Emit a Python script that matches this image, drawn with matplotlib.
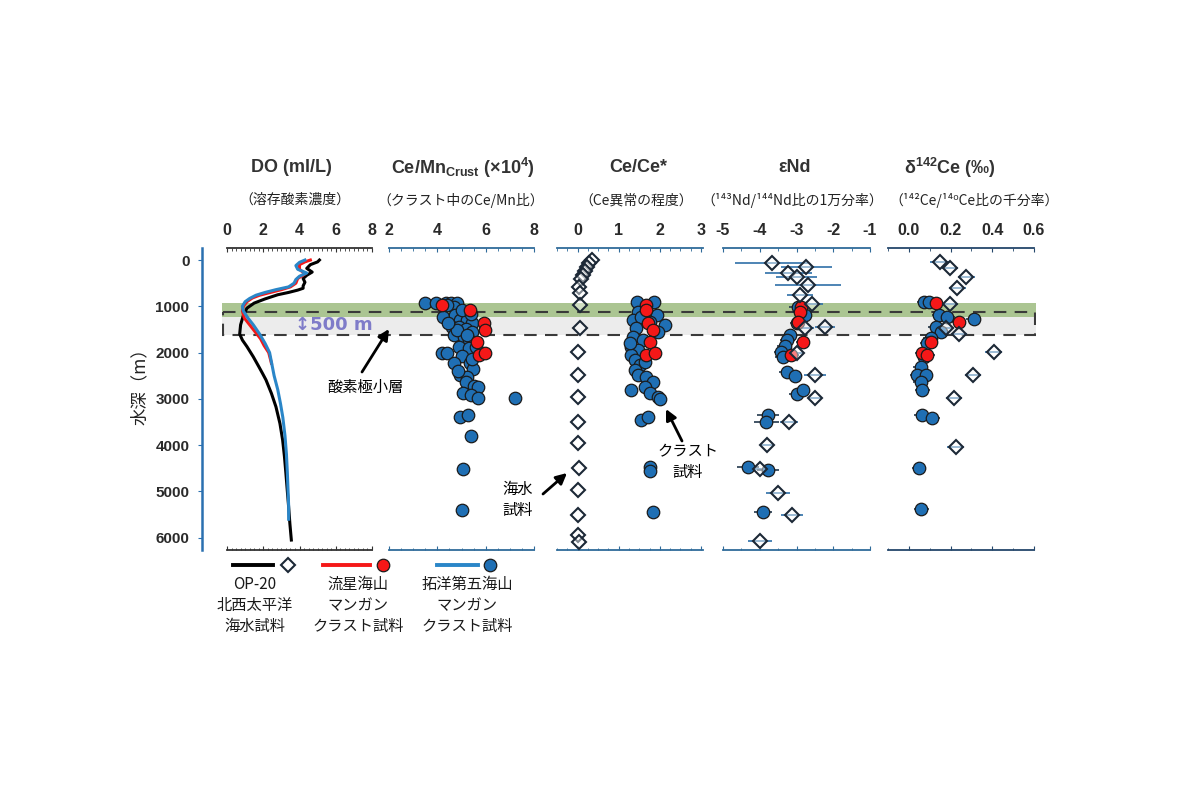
import numpy as np
import matplotlib.pyplot as plt
from matplotlib.patches import Rectangle
from matplotlib.ticker import MultipleLocator

plt.rcParams['mathtext.default'] = 'regular'
plt.rcParams['axes.unicode_minus'] = False

JP = ['Noto Sans CJK JP', 'DejaVu Sans']
EN = ['Liberation Sans', 'DejaVu Sans']

# ---------------- data ----------------
# dissolved oxygen profiles (ml/L) vs depth (m)
do_op20_depth = [0, 40, 100, 180, 260, 330, 400, 480, 560, 610, 650, 700, 750, 840, 930, 1040,
                 1200, 1400, 1600, 1730, 1870, 2090, 2300, 2450, 2590, 2880, 3170, 3530, 3890,
                 4250, 4610, 5000, 5330, 5700, 6050]
do_op20 = [5.1, 5.0, 4.6, 4.4, 4.7, 4.4, 4.2, 4.3, 4.2, 4.2, 3.9, 3.4, 2.8, 2.1, 1.5, 1.1,
           0.9, 0.75, 0.7, 0.85, 1.1, 1.45, 1.75, 1.96, 2.15, 2.45, 2.7, 2.92, 3.07,
           3.17, 3.25, 3.33, 3.4, 3.47, 3.55]
do_ryusei_depth = [0, 40, 100, 200, 300, 400, 500, 580, 640, 700, 760, 820, 900, 1000, 1100,
                   1250, 1400, 1550, 1700, 1850, 2000, 2150, 2230]
do_ryusei = [4.6, 4.3, 4.0, 4.0, 4.3, 3.9, 3.8, 3.5, 3.0, 2.4, 1.8, 1.4, 1.1, 0.9, 0.85,
             0.95, 1.25, 1.55, 1.85, 2.05, 2.3, 2.4, 2.45]
do_takuyo_depth = [0, 50, 120, 200, 280, 350, 420, 500, 580, 640, 700, 760, 830, 900, 1000,
                   1100, 1250, 1400, 1600, 1800, 2000, 2200, 2500, 2800, 3100, 3400, 3800,
                   4200, 4600, 5000, 5300, 5600]
do_takuyo = [4.3, 4.0, 3.8, 3.9, 4.4, 4.0, 3.8, 3.7, 3.4, 2.7, 2.1, 1.6, 1.25, 1.0, 0.85,
             0.9, 1.15, 1.45, 1.8, 2.1, 2.35, 2.45, 2.6, 2.8, 2.95, 3.08, 3.2,
             3.28, 3.33, 3.37, 3.4, 3.4]

# Ce/Mn in crusts (x10^4)
cemn_takuyo_depth = [936, 922, 922, 922, 936, 1008, 1238, 1188, 1296, 1296, 1353, 1454, 1454,
                     1497, 1548, 1620, 1656, 1728, 1886, 1908, 2001, 2001, 2073, 2217, 2231,
                     2361, 2484, 2520, 2628, 2721, 2736, 2880, 2916, 2988, 2988, 3398, 3348,
                     3801, 4514, 5400, 972, 1080, 1166, 1512, 1368, 1620, 1872, 2145, 2390]
cemn_takuyo = [3.48, 3.94, 4.36, 4.56, 4.81, 4.67, 4.22, 4.74, 4.95, 5.21, 5.45, 4.60, 4.88,
               5.17, 5.45, 4.70, 5.10, 5.31, 4.88, 5.31, 4.18, 4.39, 5.03, 4.67, 5.35,
               5.49, 4.95, 5.24, 5.17, 5.52, 5.69, 5.07, 5.38, 5.69, 7.23, 4.95, 5.26,
               5.38, 5.07, 5.00, 4.39, 5.03, 5.38, 4.81, 4.46, 5.24, 5.59, 5.45, 4.84]
cemn_ryusei_depth = [972, 1080, 1353, 1512, 1764, 2052, 2016]
cemn_ryusei = [4.18, 5.35, 5.92, 5.97, 5.63, 5.73, 5.97]

# Ce/Ce*
cece_sw_depth = [0, 58, 144, 230, 324, 418, 576, 720, 972, 1476, 1980, 2484, 2952, 3492,
                 3960, 4500, 4968, 5508, 5940, 6084]
cece_sw = [0.36, 0.29, 0.24, 0.18, 0.13, 0.09, 0.03, 0.06, 0.05, 0.05, 0.02, 0.02, 0.02, 0.02,
           0.02, 0.03, 0.02, 0.02, 0.02, 0.03]
cece_takuyo_depth = [900, 900, 1116, 1296, 1238, 1188, 1404, 1476, 1548, 1656, 1728, 1872,
                     1944, 2052, 2160, 2268, 2376, 2484, 2520, 2628, 2808, 2736, 2880, 2952,
                     3009, 3456, 3384, 4478, 4550, 5436, 1332, 1800, 2196]
cece_takuyo = [1.45, 1.85, 1.47, 1.35, 1.55, 1.92, 2.12, 1.43, 1.96, 1.35, 1.59, 1.31,
               1.47, 1.31, 1.39, 1.51, 1.39, 1.47, 1.67, 1.84, 1.31, 1.63, 1.76, 1.96,
               2.00, 1.55, 1.72, 1.76, 1.77, 1.84, 1.76, 1.27, 1.63]
cece_ryusei_depth = [972, 1080, 1368, 1512, 1764, 2052, 2016]
cece_ryusei = [1.67, 1.67, 1.72, 1.84, 1.76, 1.67, 1.88]

# epsilon Nd
end_sw_depth = [58, 158, 274, 374, 540, 756, 950, 1476, 1454, 2016, 2484, 2987, 3492, 3996,
                4521, 5025, 5508, 6070]
end_sw = [-3.68, -2.73, -3.23, -3.00, -2.68, -2.91, -2.59, -2.77, -2.23, -3.00, -2.50, -2.50,
          -3.20, -3.80, -4.00, -3.50, -3.11, -4.00]
end_sw_err = [1.0, 0.7, 0.64, 0.55, 0.9, 0.36, 0.3, 0.25, 0.27, 0.2, 0.3, 0.2, 0.25, 0.2,
              0.3, 0.32, 0.3, 0.32]
end_takuyo_depth = [1008, 1188, 1353, 1620, 1728, 1857, 1980, 2088, 2412, 2505, 2894, 2808,
                    3348, 3492, 4464, 4536, 5436]
end_takuyo = [-2.96, -2.78, -2.98, -3.18, -3.25, -3.32, -3.41, -3.38, -3.27, -3.05, -3.00,
              -2.82, -3.77, -3.82, -4.32, -3.77, -3.91]
end_takuyo_err = [0.25, 0.2, 0.2, 0.2, 0.2, 0.2, 0.2, 0.2, 0.2, 0.2, 0.2, 0.2, 0.3, 0.35,
                  0.3, 0.3, 0.25]
end_ryusei_depth = [1008, 1116, 1332, 1764, 2052]
end_ryusei = [-2.87, -2.91, -2.96, -2.82, -3.14]
end_ryusei_err = [0.2, 0.2, 0.2, 0.2, 0.2]

# delta 142Ce (permil)
dce_sw_depth = [36, 180, 360, 597, 957, 1476, 1598, 1980, 2484, 2988, 4032]
dce_sw = [0.149, 0.197, 0.276, 0.232, 0.197, 0.176, 0.240, 0.406, 0.308, 0.216, 0.224]
dce_sw_err = [0.05, 0.04, 0.04, 0.04, 0.04, 0.04, 0.04, 0.04, 0.04, 0.04, 0.04]
dce_takuyo_depth = [900, 914, 1188, 1274, 1224, 1440, 1548, 1692, 1800, 2088, 2304, 2484,
                    2484, 2628, 2808, 3348, 3420, 4500, 5385]
dce_takuyo = [0.073, 0.097, 0.144, 0.311, 0.184, 0.128, 0.152, 0.105, 0.089, 0.073, 0.057,
              0.041, 0.081, 0.057, 0.065, 0.062, 0.113, 0.049, 0.060]
dce_ryusei_depth = [936, 1332, 1764, 2016, 2052]
dce_ryusei = [0.128, 0.240, 0.105, 0.065, 0.089]

# layers
omz_band = (930, 1230)        # oxygen minimum zone (green)
grey_band = (1230, 1620)
box_band = (1120, 1620)       # 500 m thick dashed box

# ---------------- styles ----------------
C_BLUE = '#1f6fb4'
C_RED = '#f51818'
C_EDGE = '#1b1b1b'
C_SPINE = '#2f6b9a'
W, H = 1200, 800
YLIM = (6265, -260)

fig = plt.figure(figsize=(12, 8), dpi=100)


def add_px_axes(left, right, top=248, bottom=550, **kw):
    return fig.add_axes([left / W, 1 - bottom / H, (right - left) / W, (bottom - top) / H], **kw)


# background bands across all panels
band = add_px_axes(222, 1036, zorder=0)
band.set_xlim(0, 1)
band.set_ylim(*YLIM)
band.axis('off')
band.axhspan(*omz_band, color='#abc592', lw=0)
band.axhspan(*grey_band, color='#ececec', lw=0)
band.add_patch(Rectangle((0.001, box_band[0]), 0.998, box_band[1] - box_band[0], fill=False,
                         ec='#3a3a3a', lw=1.5, ls=(0, (6, 4))))

# title / subtitle centres are in pixels
panels = [
    dict(lr=(227, 372), xlim=(0, 8), major=2, minor=0.25, color='#333333',
         title='DO (ml/L)', sub='（溶存酸素濃度）', tx=291, sx=295),
    dict(lr=(389, 534), xlim=(2, 8), major=2, minor=0.5, color=C_SPINE,
         title='Ce/Mn$_{Crust}$ (×10$^4$)', sub='（クラスト中のCe/Mn比）', tx=463, sx=461),
    dict(lr=(557, 703), xlim=(-0.5, 3.05), major=1, minor=0.25, color=C_SPINE,
         title='Ce/Ce*', sub='（Ce異常の程度）', tx=638, sx=636),
    dict(lr=(723, 870), xlim=(-5, -1), major=1, minor=0.5, color=C_SPINE,
         title='εNd', sub='（¹⁴³Nd/¹⁴⁴Nd比の1万分率）', tx=795, sx=792),
    dict(lr=(888, 1034), xlim=(-0.1, 0.6), major=0.2, minor=0.1, color='#24476b',
         title='δ$^{142}$Ce (‰)', sub='（¹⁴²Ce/¹⁴⁰Ce比の千分率）', tx=950, sx=974),
]

axes = []
for p in panels:
    ax = add_px_axes(*p['lr'], zorder=1)
    ax.patch.set_alpha(0)
    ax.set_xlim(*p['xlim'])
    ax.set_ylim(*YLIM)
    ax.xaxis.set_major_locator(MultipleLocator(p['major']))
    ax.xaxis.set_minor_locator(MultipleLocator(p['minor']))
    for s in ['left', 'right']:
        ax.spines[s].set_visible(False)
    for s in ['top', 'bottom']:
        ax.spines[s].set_color(p['color'])
        ax.spines[s].set_linewidth(1.3)
    ax.tick_params(axis='x', which='both', top=True, bottom=True, labeltop=True,
                   labelbottom=False, direction='in', color=p['color'])
    ax.tick_params(axis='x', which='major', length=3, pad=7, labelsize=11.5,
                   labelcolor='#2a2a2a')
    ax.tick_params(axis='x', which='minor', length=1.8)
    ax.tick_params(axis='y', left=False, labelleft=False)
    for lab in ax.get_xticklabels():
        lab.set_fontfamily(EN)
        lab.set_fontweight('bold')
    fig.text(p['tx'] / W, 1 - 168 / H, p['title'], ha='center', va='center', fontsize=13,
             fontweight='bold', family=EN, color='#333333')
    fig.text(p['sx'] / W, 1 - 200 / H, p['sub'], ha='center', va='center', fontsize=10,
             family=JP, color='#222222')
    axes.append(ax)

ax1, ax2, ax3, ax4, ax5 = axes

# depth axis on the first panel
ax1.spines['left'].set_visible(True)
ax1.spines['left'].set_position(('outward', 18))
ax1.spines['left'].set_color('#2a70b0')
ax1.spines['left'].set_linewidth(1.8)
ax1.set_yticks(np.arange(0, 6001, 1000))
ax1.tick_params(axis='y', left=True, labelleft=True, length=3, color='#2a70b0',
                labelsize=11, pad=6, labelcolor='#2a2a2a')
for lab in ax1.get_yticklabels():
    lab.set_fontfamily(EN)
    lab.set_fontweight('bold')
fig.text(140 / W, 1 - 382 / H, '水深（m）', rotation=90, ha='center', va='center',
         fontsize=12.5, family=JP, color='#222222')

# panel 1: DO profiles
ax1.plot(do_op20, do_op20_depth, color='black', lw=2.2, solid_joinstyle='round')
ax1.plot(do_ryusei, do_ryusei_depth, color=C_RED, lw=2.2, solid_joinstyle='round')
ax1.plot(do_takuyo, do_takuyo_depth, color='#2a86c8', lw=2.2, solid_joinstyle='round')
ax1.text(5.9, 1400, '↕500 m', ha='center', va='center', fontsize=13, fontweight='bold',
         color='#7f7cc9', family=['DejaVu Sans'])

circ = dict(marker='o', ls='none', ms=9, mec=C_EDGE, mew=0.9)
diam = dict(marker='D', ls='none', ms=7, mfc=(1, 1, 1, 0.45), mec='#1c2836', mew=1.5)

# panel 2: Ce/Mn
ax2.plot(cemn_takuyo, cemn_takuyo_depth, mfc=C_BLUE, zorder=3, **circ)
ax2.plot(cemn_ryusei, cemn_ryusei_depth, mfc=C_RED, zorder=4, **circ)

# panel 3: Ce/Ce*
ax3.plot(cece_takuyo, cece_takuyo_depth, mfc=C_BLUE, zorder=3, **circ)
ax3.plot(cece_ryusei, cece_ryusei_depth, mfc=C_RED, zorder=4, **circ)
ax3.plot(cece_sw, cece_sw_depth, zorder=5, **diam)

# panel 4: eNd
ax4.errorbar(end_sw, end_sw_depth, xerr=end_sw_err, fmt='none', ecolor='#2f6fa8',
             elinewidth=1.2, zorder=2)
ax4.errorbar(end_takuyo, end_takuyo_depth, xerr=end_takuyo_err, fmt='none',
             ecolor='#23384d', elinewidth=1.2, zorder=2)
ax4.errorbar(end_ryusei, end_ryusei_depth, xerr=end_ryusei_err, fmt='none',
             ecolor='#23384d', elinewidth=1.2, zorder=2)
ax4.plot(end_takuyo, end_takuyo_depth, mfc=C_BLUE, zorder=3, **circ)
ax4.plot(end_ryusei, end_ryusei_depth, mfc=C_RED, zorder=4, **circ)
ax4.plot(end_sw, end_sw_depth, zorder=5, **diam)

# panel 5: d142Ce
ax5.errorbar(dce_sw, dce_sw_depth, xerr=dce_sw_err, fmt='none', ecolor='#2f6fa8',
             elinewidth=1.2, zorder=2)
ax5.errorbar(dce_takuyo, dce_takuyo_depth, xerr=0.035, fmt='none', ecolor='#23384d',
             elinewidth=1.2, zorder=2)
ax5.errorbar(dce_ryusei, dce_ryusei_depth, xerr=0.035, fmt='none', ecolor='#23384d',
             elinewidth=1.2, zorder=2)
ax5.plot(dce_takuyo, dce_takuyo_depth, mfc=C_BLUE, zorder=3, **circ)
ax5.plot(dce_ryusei, dce_ryusei_depth, mfc=C_RED, zorder=4, **circ)
ax5.plot(dce_sw, dce_sw_depth, zorder=5, **diam)

# annotations and legend on a full-figure overlay in pixel units
ov = fig.add_axes([0, 0, 1, 1], zorder=2)
ov.patch.set_alpha(0)
ov.set_xlim(0, W)
ov.set_ylim(H, 0)
ov.axis('off')

arrow = dict(arrowstyle='-|>', lw=2, color='black', mutation_scale=16, shrinkA=0, shrinkB=0)
ov.annotate('', xy=(389, 329), xytext=(362, 372), arrowprops=arrow)
ov.text(365, 387, '酸素極小層', ha='center', va='center', fontsize=11, family=JP)
ov.annotate('', xy=(567, 473), xytext=(543, 494), arrowprops=arrow)
ov.text(518, 500, '海水\n試料', ha='center', va='center', fontsize=11, family=JP,
        linespacing=1.25)
ov.annotate('', xy=(666, 409), xytext=(682, 441), arrowprops=arrow)
ov.text(688, 462, 'クラスト\n試料', ha='center', va='center', fontsize=11, family=JP,
        linespacing=1.25)

# legend
ov.plot([233, 273], [565, 565], color='black', lw=2.8)
ov.plot([288], [565], **diam)
ov.plot([323, 370], [565, 565], color=C_RED, lw=2.8)
ov.plot([383], [565], mfc=C_RED, **circ)
ov.plot([437, 478], [565, 565], color='#2a86c8', lw=2.8)
ov.plot([490], [565], mfc=C_BLUE, **circ)
leg_kw = dict(ha='center', va='top', fontsize=11, family=JP, linespacing=1.3, color='#1a1a1a')
ov.text(255, 576, 'OP-20\n北西太平洋\n海水試料', **leg_kw)
ov.text(358, 576, '流星海山\nマンガン\nクラスト試料', **leg_kw)
ov.text(467, 576, '拓洋第五海山\nマンガン\nクラスト試料', **leg_kw)

fig.savefig('out.png', dpi=100, facecolor='white')
